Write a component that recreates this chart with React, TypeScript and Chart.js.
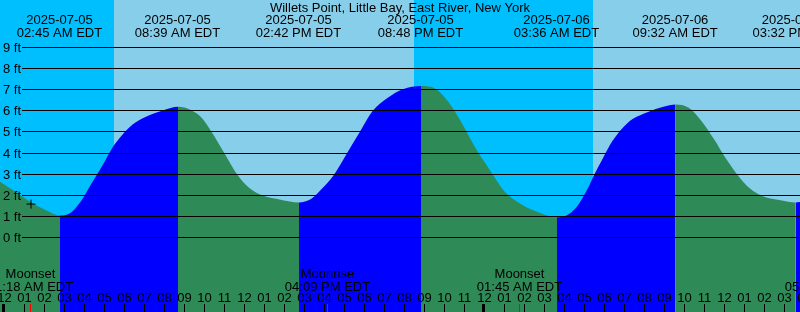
import React, { useEffect, useRef } from "react";
import { Chart, registerables } from "chart.js";

Chart.register(...registerables);

// ---------------- data ----------------
const chartTitle = "Willets Point, Little Bay, East River, New York";

// hours after midnight 2025-07-05 (EDT) and water level (ft)
const tideHours = [
  -0.25, 0.75, 1.28, 2.0, 2.75,
  3.32, 3.83, 4.22, 4.6, 4.98, 5.36, 5.87, 6.38, 7.02, 7.92, 8.65,
  9.32, 9.83, 10.33, 10.97, 11.61, 12.25, 12.89, 13.78, 14.7,
  15.3, 15.82, 16.46, 17.1, 17.74, 18.37, 19.14, 19.9, 20.8,
  21.56, 22.2, 22.84, 23.48, 24.24, 25.0, 25.77, 26.79, 27.6,
  28.07, 28.58, 29.09, 29.47, 29.85, 30.36, 31.13, 32.15, 32.92, 33.53,
  34.19, 34.83, 35.47, 35.98, 36.61, 37.25, 37.89, 38.78, 39.53, 40.0,
];
const tideFeet = [
  2.65, 2.04, 1.7, 1.33, 1.06,
  1.22, 1.78, 2.41, 3.0, 3.6, 4.24, 4.87, 5.35, 5.71, 6.03, 6.19,
  6.03, 5.67, 5.0, 4.0, 3.0, 2.33, 2.0, 1.81, 1.68,
  1.84, 2.3, 3.0, 4.0, 5.0, 5.98, 6.62, 7.02, 7.17,
  7.02, 6.38, 5.43, 4.32, 3.21, 2.17, 1.62, 1.17, 0.98,
  1.06, 1.46, 2.25, 3.0, 3.68, 4.56, 5.43, 5.94, 6.19, 6.3,
  6.14, 5.51, 4.63, 3.84, 3.0, 2.33, 1.97, 1.78, 1.68, 1.75,
];

const extremeHours = [2.75, 8.65, 14.7, 20.8, 27.6, 33.53, 39.53];
const extremeDates = [
  "2025-07-05", "2025-07-05", "2025-07-05", "2025-07-05",
  "2025-07-06", "2025-07-06", "2025-07-06",
];
const extremeTimes = [
  "02:45 AM EDT", "08:39 AM EDT", "02:42 PM EDT", "08:48 PM EDT",
  "03:36 AM EDT", "09:32 AM EDT", "03:32 PM EDT",
];

// night spans (sunset -> sunrise), hours
const nightStarts = [-2, 20.45];
const nightEnds = [5.45, 29.42];

const moonHours = [1.3, 16.15, 25.75, 41.15];
const moonEvents = ["Moonset", "Moonrise", "Moonset", "Moonrise"];
const moonTimes = ["01:18 AM EDT", "04:09 PM EDT", "01:45 AM EDT", "05:09 PM EDT"];

const markerHours = [1.3];
const markerFeet = [1.6];

const levelTicks = [0, 1, 2, 3, 4, 5, 6, 7, 8, 9];
const hourTicks = [
  0, 1, 2, 3, 4, 5, 6, 7, 8, 9, 10, 11, 12, 13, 14, 15, 16, 17, 18, 19, 20,
  21, 22, 23, 24, 25, 26, 27, 28, 29, 30, 31, 32, 33, 34, 35, 36, 37, 38, 39, 40,
];
const hourLabels = hourTicks.map((h) => String(h % 12 === 0 ? 12 : h % 12).padStart(2, "0"));

// ---------------- style ----------------
const DAY = "#87CEEB";
const NIGHT = "#00BFFF";
const RISING = "#0000FF";
const FALLING = "#2E8B57";
const FONT = '13px "Liberation Sans", Arial, sans-serif';

const tidePlugin = {
  id: "tideDecor",
  beforeDatasetsDraw(chart: any) {
    const { ctx, chartArea, scales } = chart;
    const xs = scales.x;
    ctx.save();
    ctx.fillStyle = DAY;
    ctx.fillRect(chartArea.left, chartArea.top, chartArea.width, chartArea.height);
    ctx.fillStyle = NIGHT;
    for (let i = 0; i < nightStarts.length; i++) {
      const a = Math.max(chartArea.left, Math.round(xs.getPixelForValue(nightStarts[i])));
      const b = Math.min(chartArea.right, Math.round(xs.getPixelForValue(nightEnds[i])));
      ctx.fillRect(a, chartArea.top, b - a, chartArea.height);
    }
    ctx.restore();
  },
  afterDatasetsDraw(chart: any) {
    const { ctx, chartArea, scales } = chart;
    const xs = scales.x;
    const ys = scales.y;
    ctx.save();
    ctx.fillStyle = "#000";
    ctx.font = FONT;
    ctx.textBaseline = "alphabetic";
    // level lines + labels
    for (const v of levelTicks) {
      const p = Math.floor(ys.getPixelForValue(v));
      ctx.fillRect(22, p, chartArea.right - 22, 1);
      ctx.textAlign = "left";
      ctx.fillText(`${v} ft`, 3, p + 5);
    }
    // title
    ctx.textAlign = "center";
    ctx.fillText(chartTitle, 400, 12);
    // extreme labels
    for (let i = 0; i < extremeHours.length; i++) {
      const x = xs.getPixelForValue(extremeHours[i]) - 0.5;
      ctx.fillText(extremeDates[i], x, 24);
      ctx.fillText(extremeTimes[i], x, 37);
    }
    // moon labels
    for (let i = 0; i < moonHours.length; i++) {
      const x = xs.getPixelForValue(moonHours[i]) - 0.5;
      ctx.fillText(moonEvents[i], x, 278);
      ctx.fillText(moonTimes[i], x, 291);
    }
    // hour labels and ticks
    for (let i = 0; i < hourTicks.length; i++) {
      const p = Math.round(xs.getPixelForValue(hourTicks[i]));
      ctx.fillStyle = "#000";
      ctx.fillText(hourLabels[i], p - 0.5, 302);
      if (hourTicks[i] % 24 === 0) ctx.fillRect(p - 3, 304, 3, 8);
      else ctx.fillRect(p - 1, 304, 1, 8);
    }
    ctx.fillStyle = "#FF0000";
    for (const h of moonHours) {
      const p = Math.round(xs.getPixelForValue(h));
      ctx.fillRect(p - 1, 304, 1, 8);
    }
    ctx.restore();
  },
};

export default function App() {
  const ref = useRef<HTMLCanvasElement | null>(null);

  useEffect(() => {
    document.body.style.margin = "0";
    const canvas = ref.current;
    if (!canvas) return;
    const chart = new Chart(canvas, {
      type: "line",
      data: {
        datasets: [
          {
            label: "marker",
            data: markerHours.map((h, i) => ({ x: h, y: markerFeet[i] })),
            showLine: false,
            pointStyle: "cross",
            pointRadius: 4.5,
            pointBorderWidth: 1,
            pointBorderColor: "#000",
            pointBackgroundColor: "#000",
            order: 0,
          },
          {
            label: "tide",
            data: tideHours.map((h, i) => ({ x: h, y: tideFeet[i] })),
            fill: "start",
            borderWidth: 0,
            borderColor: "rgba(0,0,0,0)",
            backgroundColor: FALLING,
            pointRadius: 0,
            cubicInterpolationMode: "monotone",
            segment: {
              backgroundColor: (c: any) => (c.p1.parsed.y > c.p0.parsed.y ? RISING : FALLING),
            },
            order: 1,
          },
        ],
      },
      options: {
        responsive: false,
        animation: false,
        events: [],
        layout: { padding: 0, autoPadding: false },
        scales: {
          x: { type: "linear", min: -0.25, max: 39.75, display: false },
          y: { type: "linear", min: -3.4906, max: 11.2264, display: false },
        },
        plugins: {
          legend: { display: false },
          tooltip: { enabled: false },
          title: { display: false },
        },
      },
      plugins: [tidePlugin],
    });
    return () => chart.destroy();
  }, []);

  return (
    <div style={{ width: 800, height: 312 }}>
      <canvas ref={ref} width={800} height={312} style={{ display: "block" }} />
    </div>
  );
}
